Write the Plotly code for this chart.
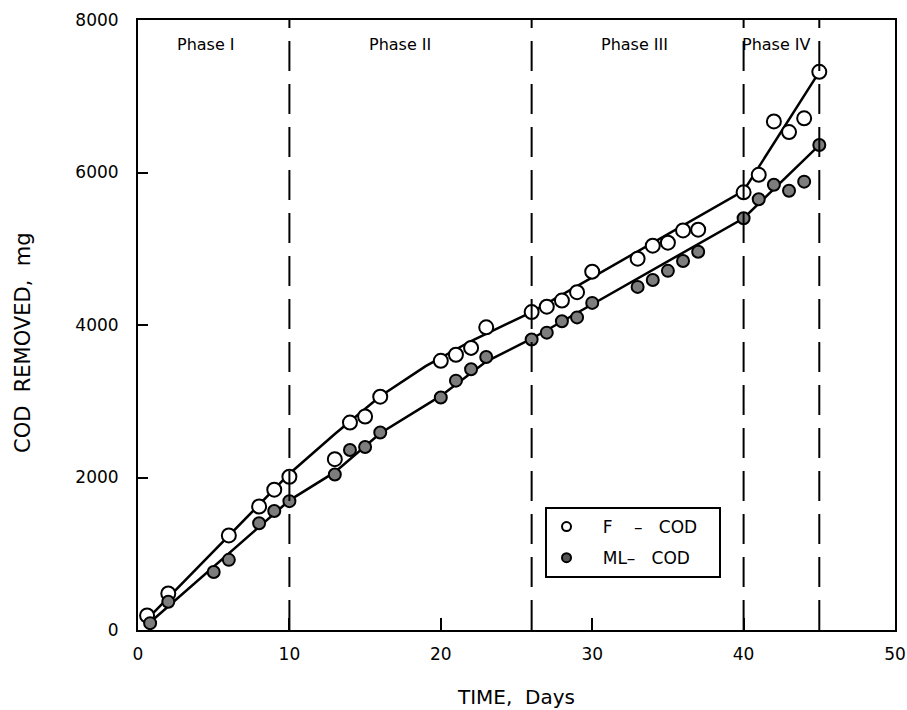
import plotly.graph_objects as go

# ---- data ----
f_days = [0.6, 2, 6, 8, 9, 10, 13, 14, 15, 16, 20, 21, 22, 23, 26, 27, 28, 29, 30,
          33, 34, 35, 36, 37, 40, 41, 42, 43, 44, 45]
f_cod = [190, 480, 1240, 1620, 1840, 2010, 2240, 2720, 2800, 3060, 3530, 3610, 3700, 3970,
         4170, 4240, 4320, 4430, 4700, 4870, 5040, 5080, 5240, 5250, 5740, 5970, 6670,
         6530, 6710, 7320]

ml_days = [0.8, 2, 5, 6, 8, 9, 10, 13, 14, 15, 16, 20, 21, 22, 23, 26, 27, 28, 29, 30,
           33, 34, 35, 36, 37, 40, 41, 42, 43, 44, 45]
ml_cod = [90, 370, 760, 920, 1400, 1560, 1690, 2040, 2360, 2400, 2590, 3050, 3270, 3420,
          3580, 3810, 3900, 4050, 4100, 4290, 4500, 4590, 4710, 4840, 4960, 5400, 5650,
          5840, 5760, 5880, 6360]

# fitted curves (as drawn)
f_fit_days = [0.4, 10, 13, 16, 19, 22, 26, 40, 45]
f_fit_cod = [100, 2050, 2570, 3065, 3460, 3790, 4170, 5760, 7320]
ml_fit_days = [0.5, 10, 13, 16, 20, 23, 26, 40, 45]
ml_fit_cod = [50, 1700, 2070, 2580, 3070, 3520, 3820, 5400, 6360]

phase_bounds = [10, 26, 40, 45]
phase_labels = ["Phase I", "Phase II", "Phase III", "Phase IV"]
phase_label_x = [4.5, 17.3, 32.8, 42.2]

x_ticks = [0, 10, 20, 30, 40, 50]
y_ticks = [0, 2000, 4000, 6000, 8000]

FONT = "DejaVu Sans"
NB = "\u00a0"

fig = go.Figure()

fig.add_trace(go.Scatter(x=f_fit_days, y=f_fit_cod, mode="lines",
                         line=dict(color="black", width=2.5), showlegend=False,
                         hoverinfo="skip"))
fig.add_trace(go.Scatter(x=ml_fit_days, y=ml_fit_cod, mode="lines",
                         line=dict(color="black", width=2.5), showlegend=False,
                         hoverinfo="skip"))

fig.add_trace(go.Scatter(x=f_days, y=f_cod, mode="markers", showlegend=False,
                         marker=dict(symbol="circle", size=14, color="white",
                                     line=dict(color="black", width=2))))
fig.add_trace(go.Scatter(x=ml_days, y=ml_cod, mode="markers", showlegend=False,
                         marker=dict(symbol="circle", size=12, color="#7d7d7d",
                                     line=dict(color="black", width=2))))

# legend entries
fig.add_trace(go.Scatter(x=[None], y=[None], mode="markers", legendgroup="f",
                         name=NB * 3 + "F" + NB * 4 + "\u2013" + NB * 3 + "COD" + NB * 3,
                         marker=dict(symbol="circle", size=9, color="white",
                                     line=dict(color="black", width=2))))
fig.add_trace(go.Scatter(x=[None], y=[None], mode="markers", legendgroup="ml",
                         name=NB * 3 + "ML\u2013" + NB * 3 + "COD" + NB * 3,
                         marker=dict(symbol="circle", size=9, color="#555555",
                                     line=dict(color="black", width=2))))

for b in phase_bounds:
    fig.add_shape(type="line", xref="x", yref="y", x0=b, x1=b, y0=0, y1=8000,
                  line=dict(color="black", width=2, dash="30px,13px"))

for lbl, lx in zip(phase_labels, phase_label_x):
    fig.add_annotation(x=lx, y=7680, xref="x", yref="y", text=lbl, showarrow=False,
                       font=dict(family=FONT, size=16, color="black"))

# y-axis title (placed slightly below centre, as in the original)
fig.add_annotation(x=(23 - 138) / 757, y=(630 - 343) / 610, xref="paper", yref="paper",
                   text="COD" + NB * 2 + "REMOVED," + NB * 2 + "mg", textangle=-90,
                   showarrow=False, xanchor="center", yanchor="middle",
                   font=dict(family=FONT, size=21, color="black"))

fig.update_layout(
    width=907, height=710,
    margin=dict(l=138, r=12, t=20, b=80),
    paper_bgcolor="white", plot_bgcolor="white",
    font=dict(family=FONT, color="black"),
    legend=dict(x=0.537, y=0.2016, xanchor="left", yanchor="top",
                bordercolor="black", borderwidth=2, bgcolor="white",
                font=dict(family=FONT, size=17, color="black"),
                tracegroupgap=6, itemwidth=30),
    xaxis=dict(range=[0, 50], tickvals=x_ticks, showgrid=False, zeroline=False,
               showline=True, linecolor="black", linewidth=2, mirror=True,
               ticks="inside", ticklen=12, tickwidth=2, tickcolor="black",
               tickfont=dict(family=FONT, size=17, color="black"),
               ticklabelstandoff=8, automargin=False,
               title=dict(text="TIME," + NB * 2 + "Days", standoff=27,
                          font=dict(family=FONT, size=20, color="black"))),
    yaxis=dict(range=[0, 8000], tickvals=y_ticks, showgrid=False, zeroline=False,
               showline=True, linecolor="black", linewidth=2, mirror=True,
               ticks="inside", ticklen=10, tickwidth=2, tickcolor="black",
               tickfont=dict(family=FONT, size=17, color="black"),
               ticklabelstandoff=14, automargin=False),
)

fig.write_html("out.html")
